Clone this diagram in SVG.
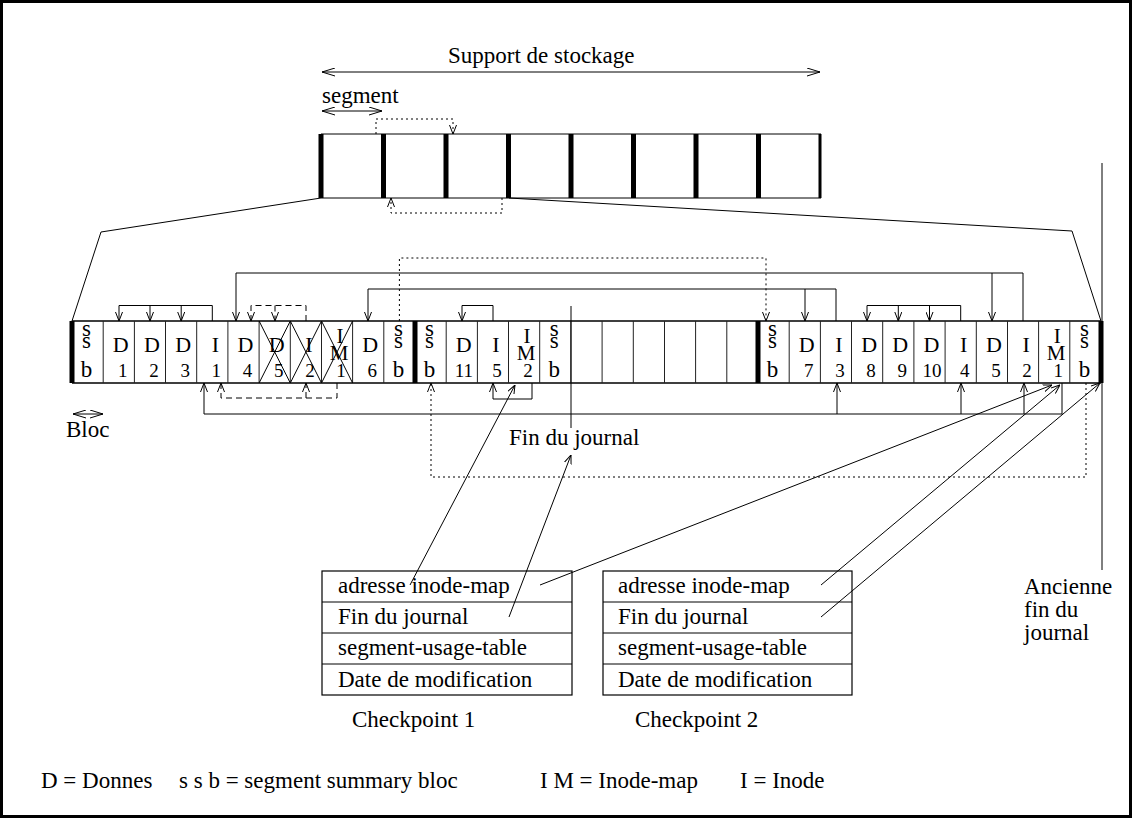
<svg xmlns="http://www.w3.org/2000/svg" width="1133" height="819" viewBox="0 0 1133 819">
<style>
.t{font-family:"Liberation Serif","Times New Roman",serif;font-size:23px;fill:#000}
.L{font-family:"Liberation Serif","Times New Roman",serif;font-size:22px;fill:#000;text-anchor:middle}
.S{font-family:"Liberation Serif","Times New Roman",serif;font-size:21px;fill:#000;text-anchor:middle}
.B{font-family:"Liberation Serif","Times New Roman",serif;font-size:23px;fill:#000;text-anchor:middle}
.N{font-family:"Liberation Serif","Times New Roman",serif;font-size:19px;fill:#000;text-anchor:middle}
.ln{stroke:#000;stroke-width:1;fill:none}
.rw{stroke:#000;stroke-width:1.4;fill:none}
.sep{stroke:#222;stroke-width:1;fill:none}
.dot{stroke-dasharray:2 3}
.dash{stroke-dasharray:6 4}
.ar{marker-end:url(#a)}
.da{marker-start:url(#b);marker-end:url(#c)}
</style>
<defs>
<marker id="a" viewBox="0 0 9 8" refX="9" refY="4" markerWidth="9" markerHeight="8" orient="auto" markerUnits="userSpaceOnUse"><path d="M0,0.5 L9,4 L0,7.5" fill="none" stroke="#000" stroke-width="1"/></marker>
<marker id="c" viewBox="0 0 13 9" refX="13" refY="4.5" markerWidth="13" markerHeight="9" orient="auto" markerUnits="userSpaceOnUse"><path d="M0,0.5 L13,4.5 L0,8.5" fill="none" stroke="#000" stroke-width="1"/></marker>
<marker id="b" viewBox="0 0 13 9" refX="0" refY="4.5" markerWidth="13" markerHeight="9" orient="auto" markerUnits="userSpaceOnUse"><path d="M13,0.5 L0,4.5 L13,8.5" fill="none" stroke="#000" stroke-width="1"/></marker>
</defs>
<rect x="1.5" y="1.5" width="1129" height="815" fill="#fff" stroke="#000" stroke-width="3"/>

<g id="storage">
<text class="t" x="448" y="63">Support de stockage</text>
<text class="t" x="322" y="103">segment</text>
<path class="ln" d="M321,134 H821 M321,198 H821"/>
<g fill="#000">
<rect x="318.5" y="134" width="5" height="64"/><rect x="381" y="134" width="5" height="64"/><rect x="443.5" y="134" width="5" height="64"/><rect x="506" y="134" width="5" height="64"/><rect x="568.5" y="134" width="5" height="64"/><rect x="631" y="134" width="5" height="64"/><rect x="693.5" y="134" width="5" height="64"/><rect x="756" y="134" width="5" height="64"/><rect x="818.5" y="134" width="3" height="64"/>
</g>
</g>

<g id="row">
<path class="rw" d="M72,321 H1101 M72,383 H1101"/>
<path class="sep" d="M103.2,321V383 M134.4,321V383 M165.5,321V383 M196.7,321V383 M227.9,321V383 M259.1,321V383 M290.3,321V383 M321.5,321V383 M352.6,321V383 M383.8,321V383 M446.2,321V383 M477.4,321V383 M508.5,321V383 M539.7,321V383 M570.9,321V383 M602.1,321V383 M633.3,321V383 M664.5,321V383 M695.6,321V383 M726.8,321V383 M789.2,321V383 M820.4,321V383 M851.5,321V383 M882.7,321V383 M913.9,321V383 M945.1,321V383 M976.3,321V383 M1007.5,321V383 M1038.6,321V383 M1069.8,321V383"/>
<g fill="#000"><rect x="69.5" y="321" width="5" height="62"/><rect x="412.5" y="321" width="5" height="62"/><rect x="755.5" y="321" width="5" height="62"/><rect x="1098.5" y="321" width="5" height="62"/></g>
<path class="ln" d="M259.1,321 L290.3,383 M259.1,383 L290.3,321 M290.3,321 L321.5,383 M290.3,383 L321.5,321 M321.5,321 L352.6,383 M321.5,383 L352.6,321"/>
</g>

<g id="seg1">
<g id="c1-ssb"><text class="B" x="86.6" y="336">s<tspan x="86.6" y="348">s</tspan><tspan x="86.6" y="377">b</tspan></text></g>
<g id="c1-D1"><text class="L" x="120.8" y="352">D</text><text class="N" x="122.8" y="377">1</text></g>
<g id="c1-D2"><text class="L" x="152" y="352">D</text><text class="N" x="154" y="377">2</text></g>
<g id="c1-D3"><text class="L" x="183.2" y="352">D</text><text class="N" x="185.2" y="377">3</text></g>
<g id="c1-I1"><text class="L" x="215.3" y="352">I</text><text class="N" x="216.3" y="377">1</text></g>
<g id="c1-D4"><text class="L" x="245.5" y="352">D</text><text class="N" x="247.5" y="377">4</text></g>
<g id="c1-D5"><text class="L" x="276.7" y="352">D</text><text class="N" x="278.7" y="377">5</text></g>
<g id="c1-I2"><text class="L" x="308.9" y="352">I</text><text class="N" x="309.9" y="377">2</text></g>
<g id="c1-IM1"><text class="S" x="340.1" y="343">I<tspan x="339.1" y="360">M</tspan></text><text class="N" x="341.1" y="377">1</text></g>
<g id="c1-D6"><text class="L" x="370.3" y="352">D</text><text class="N" x="372.3" y="377">6</text></g>
<g id="c1-ssb2"><text class="B" x="398.4" y="336">s<tspan x="398.4" y="348">s</tspan><tspan x="398.4" y="377">b</tspan></text></g>
</g>

<g id="seg2">
<g id="c2-ssb"><text class="B" x="429.6" y="336">s<tspan x="429.6" y="348">s</tspan><tspan x="429.6" y="377">b</tspan></text></g>
<g id="c2-D11"><text class="L" x="463.8" y="352">D</text><text class="N" x="463.8" y="377">11</text></g>
<g id="c2-I5"><text class="L" x="496" y="352">I</text><text class="N" x="497" y="377">5</text></g>
<g id="c2-IM2"><text class="S" x="527.1" y="343">I<tspan x="526.1" y="360">M</tspan></text><text class="N" x="528.1" y="377">2</text></g>
<g id="c2-ssb2"><text class="B" x="554.3" y="336">s<tspan x="554.3" y="348">s</tspan><tspan x="554.3" y="377">b</tspan></text></g>
</g>

<g id="seg3">
<g id="c3-ssb"><text class="B" x="772.6" y="336">s<tspan x="772.6" y="348">s</tspan><tspan x="772.6" y="377">b</tspan></text></g>
<g id="c3-D7"><text class="L" x="806.8" y="352">D</text><text class="N" x="808.8" y="377">7</text></g>
<g id="c3-I3"><text class="L" x="839" y="352">I</text><text class="N" x="840" y="377">3</text></g>
<g id="c3-D8"><text class="L" x="869.1" y="352">D</text><text class="N" x="871.1" y="377">8</text></g>
<g id="c3-D9"><text class="L" x="900.3" y="352">D</text><text class="N" x="902.3" y="377">9</text></g>
<g id="c3-D10"><text class="L" x="931.5" y="352">D</text><text class="N" x="932" y="377">10</text></g>
<g id="c3-I4"><text class="L" x="963.7" y="352">I</text><text class="N" x="964.7" y="377">4</text></g>
<g id="c3-D5"><text class="L" x="993.9" y="352">D</text><text class="N" x="995.9" y="377">5</text></g>
<g id="c3-I2"><text class="L" x="1026.1" y="352">I</text><text class="N" x="1027.1" y="377">2</text></g>
<g id="c3-IM1"><text class="S" x="1057.2" y="343">I<tspan x="1056.2" y="360">M</tspan></text><text class="N" x="1058.2" y="377">1</text></g>
<g id="c3-ssb2"><text class="B" x="1084.4" y="336">s<tspan x="1084.4" y="348">s</tspan><tspan x="1084.4" y="377">b</tspan></text></g>
</g>

<g id="labels">
<text class="t" x="66" y="437">Bloc</text>
<text class="t" x="509" y="445">Fin du journal</text>
<text class="t" x="1024" y="594">Ancienne<tspan x="1024" y="617">fin du</tspan><tspan x="1024" y="640">journal</tspan></text>
</g>

<g id="checkpoint1">
<rect x="322" y="571" width="250" height="124" fill="none" stroke="#000" stroke-width="1.2"/>
<path class="ln" d="M322,602 H572 M322,633 H572 M322,664 H572"/>
<text class="t" x="338" y="593">adresse inode-map</text>
<text class="t" x="338" y="624">Fin du journal</text>
<text class="t" x="338" y="655">segment-usage-table</text>
<text class="t" x="338" y="687">Date de modification</text>
<text class="t" x="352" y="727">Checkpoint 1</text>
</g>

<g id="checkpoint2">
<rect x="603" y="571" width="249" height="124" fill="none" stroke="#000" stroke-width="1.2"/>
<path class="ln" d="M603,602 H852 M603,633 H852 M603,664 H852"/>
<text class="t" x="618" y="593">adresse inode-map</text>
<text class="t" x="618" y="624">Fin du journal</text>
<text class="t" x="618" y="655">segment-usage-table</text>
<text class="t" x="618" y="687">Date de modification</text>
<text class="t" x="635" y="727">Checkpoint 2</text>
</g>

<g id="legend">
<text class="t" x="41" y="788">D = Donnes</text>
<text class="t" x="179" y="788">s s b = segment summary bloc</text>
<text class="t" x="540" y="788">I M = Inode-map</text>
<text class="t" x="740" y="788">I = Inode</text>
</g>

<g id="connectors">
<path class="ln da" d="M322,72 H820"/>
<path class="ln da" d="M322,111 H382"/>
<path class="ln da" d="M73,414 H103"/>
<path class="ln dot ar" d="M376,134 V119 H453 V134"/>
<path class="ln dot ar" d="M502,198 V213 H391 V198"/>
<path class="ln" d="M321,198 L101,232 L72,321 M509,198 L1072,231 L1101,321"/>
<path class="ln dot ar" d="M399.4,321 V258 H766 V321"/>
<path class="ln ar" d="M1023,321 V273 H236 V321"/>
<path class="ln ar" d="M992,273 V321"/>
<path class="ln ar" d="M836,321 V289 H368 V321"/>
<path class="ln ar" d="M805,289 V321"/>
<path class="ln ar" d="M960.7,321 V305.5 H867 V321"/>
<path class="ln ar" d="M898.3,305.5 V321"/>
<path class="ln ar" d="M929.5,305.5 V321"/>
<path class="ln ar" d="M493,321 V305.5 H462 V321"/>
<path class="ln ar" d="M212.3,321 V305.5 H119 V321"/>
<path class="ln ar" d="M150,305.5 V321"/>
<path class="ln ar" d="M181.2,305.5 V321"/>
<path class="ln dash ar" d="M306,321 V305.5 H251 V321"/>
<path class="ln dash ar" d="M275,305.5 V321"/>
<path class="ln ar" d="M1062,383 V414 H204 V383"/>
<path class="ln ar" d="M837,414 V383"/>
<path class="ln ar" d="M961,414 V383"/>
<path class="ln ar" d="M1024,414 V383"/>
<path class="ln dash ar" d="M337,383 V398 H221 V383"/>
<path class="ln dash ar" d="M306,398 V383"/>
<path class="ln ar" d="M532,383 V399 H493 V383"/>
<path class="ln dot ar" d="M1086,383 V477 H431 V383"/>
<path class="ln" d="M571,306 V428"/>
<path class="ln" d="M1102,163 V570"/>
<path class="ln ar" d="M410,585 L515,385"/>
<path class="ln ar" d="M509,617 L571,455"/>
<path class="ln ar" d="M540,585 L1052,385"/>
<path class="ln ar" d="M821,585 L1060,385"/>
<path class="ln ar" d="M821,617 L1100,383"/>
</g>
</svg>
